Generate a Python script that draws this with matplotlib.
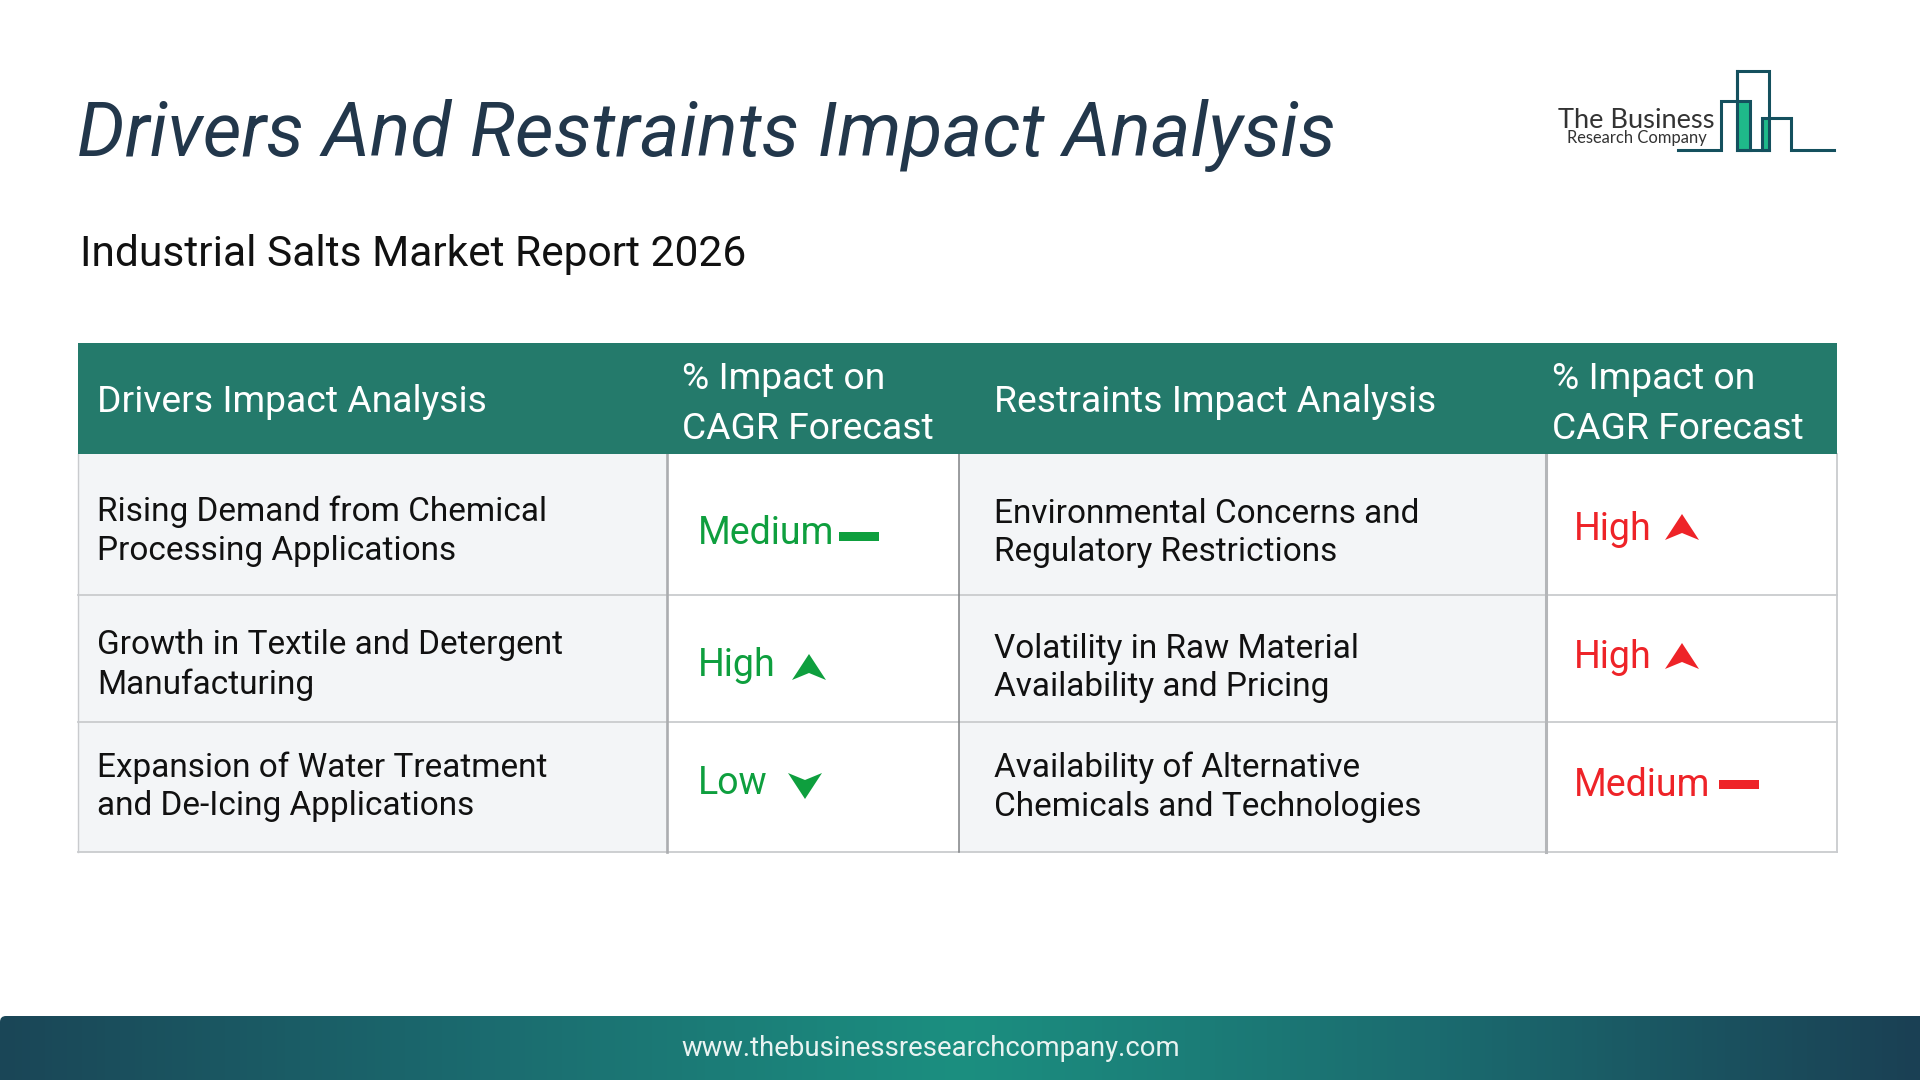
import numpy as np
import matplotlib
matplotlib.use("Agg")
import matplotlib.pyplot as plt
from matplotlib.colors import LinearSegmentedColormap
from matplotlib.patches import Rectangle, Polygon, FancyBboxPatch

plt.rcParams['font.family'] = ['Roboto', 'DejaVu Sans']

TITLE = "Drivers And Restraints Impact Analysis"
SUBTITLE = "Industrial Salts Market Report 2026"
FOOTER = "www.thebusinessresearchcompany.com"
HEADERS = ["Drivers Impact Analysis", "% Impact on\nCAGR Forecast",
           "Restraints Impact Analysis", "% Impact on\nCAGR Forecast"]
DRIVERS = ["Rising Demand from Chemical\nProcessing Applications",
           "Growth in Textile and Detergent\nManufacturing",
           "Expansion of Water Treatment\nand De-Icing Applications"]
DRIVER_IMPACT = ["Medium", "High", "Low"]
RESTRAINTS = ["Environmental Concerns and\nRegulatory Restrictions",
              "Volatility in Raw Material\nAvailability and Pricing",
              "Availability of Alternative\nChemicals and Technologies"]
RESTRAINT_IMPACT = ["High", "High", "Medium"]

GREEN, RED, TEAL = "#0E9F3E", "#EE2328", "#247A6B"
LINE, DARK = "#C9CBCE", "#14505E"

fig = plt.figure(figsize=(19.2, 10.8), dpi=100, facecolor="white")
ax = fig.add_axes([0, 0, 1, 1])
ax.set_xlim(0, 1920); ax.set_ylim(1080, 0); ax.axis("off")

ax.text(77, 127, TITLE, fontsize=54.2, style="italic", color="#22374B", va="center_baseline", ha="left")
ax.text(80, 250, SUBTITLE, fontsize=30.65, color="#111111", va="center_baseline", ha="left")

# table geometry
X = [78, 667, 959, 1546, 1837]
Y = [343, 454, 595, 722, 852]
ax.add_patch(Rectangle((X[0], Y[1]), X[1]-X[0], Y[4]-Y[1], fc="#F3F5F7", ec="none", zorder=1))
ax.add_patch(Rectangle((X[2], Y[1]), X[3]-X[2], Y[4]-Y[1], fc="#F3F5F7", ec="none", zorder=1))
for y in Y[2:]:
    ax.plot([X[0], X[4]], [y, y], color=LINE, lw=1.3, zorder=2)
ax.plot([X[0], X[0]], [Y[1], Y[4]], color=LINE, lw=1.0, zorder=2)
ax.plot([X[4], X[4]], [Y[1], Y[4]], color=LINE, lw=1.3, zorder=2)
ax.plot([X[1], X[1]], [Y[1], Y[4]], color="#ABADB0", lw=1.9, zorder=2)
ax.plot([X[2], X[2]], [Y[1], Y[4]], color="#808285", lw=1.1, zorder=2)
ax.plot([X[3], X[3]], [Y[1], Y[4]], color="#B4B6B9", lw=2.2, zorder=2)
ax.add_patch(Rectangle((X[0], Y[0]), X[4]-X[0], Y[1]-Y[0], fc=TEAL, ec="none", zorder=3))

hx = [97, 682, 994, 1552]
hy = [402, 404, 402, 404]
for x, y, t in zip(hx, hy, HEADERS):
    ax.text(x, y, t, fontsize=26.85, color="white", va="center", ha="left",
            linespacing=1.47 if "\n" in t else 1.0, zorder=4)

ty = [531.5, 665, 787]
for t, y in zip(DRIVERS, ty):
    ax.text(97, y, t, fontsize=24.05, color="#111111", va="center", ha="left", linespacing=1.26, zorder=4)
ty2 = [533, 668, 787.5]
for t, y in zip(RESTRAINTS, ty2):
    ax.text(994, y, t, fontsize=24.05, color="#111111", va="center", ha="left", linespacing=1.26, zorder=4)

def up(cx, base, color, flip=False):
    h, w, notch = 26, 34, 7
    s = -1 if flip else 1
    pts = [(cx, base - s*h), (cx + w/2, base), (cx, base - s*notch), (cx - w/2, base)]
    ax.add_patch(Polygon(pts, closed=True, fc=color, ec="none", zorder=4))

def dash(x0, y, color):
    ax.add_patch(Rectangle((x0, y-4.5), 40, 9, fc=color, ec="none", zorder=4))

dy = [530, 661, 780]
dmark = [(839, 536), (809, 680), (805, 773)]
for lab, y, m in zip(DRIVER_IMPACT, dy, dmark):
    ax.text(698, y, lab, fontsize=27, color=GREEN, va="center_baseline", ha="left", zorder=4)
    if lab == "Medium":
        dash(m[0], m[1], GREEN)
    elif lab == "High":
        up(m[0], m[1], GREEN)
    else:
        up(m[0], m[1], GREEN, flip=True)

ry = [526, 654, 782]
rmark = [(1682, 540), (1682, 669), (1719, 784)]
for lab, y, m in zip(RESTRAINT_IMPACT, ry, rmark):
    ax.text(1574, y, lab, fontsize=27, color=RED, va="center_baseline", ha="left", zorder=4)
    if lab == "Medium":
        dash(m[0], m[1], RED)
    else:
        up(m[0], m[1], RED)

# logo
ax.add_patch(Rectangle((1737, 102), 13, 49, fc="#1FB98A", ec="none"))
ax.add_patch(Rectangle((1763, 120), 6, 31, fc="#1FB98A", ec="none"))
lx = [1678, 1721, 1721, 1750, 1750, 1737, 1737, 1769, 1769, 1737, 1737]
ly = [150, 150, 101, 101, 150, 150, 71, 71, 150, 150, 71]
ax.plot(lx, ly, color=DARK, lw=2.2, solid_joinstyle="miter")
ax.plot([1769, 1762, 1762, 1791, 1791, 1834], [150, 150, 118, 118, 150, 150], color=DARK, lw=2.2,
        solid_joinstyle="miter")
ax.text(1636.5, 117.5, "The Business", fontsize=19.6, color="#333333", family="Lato",
        va="center_baseline", ha="center", zorder=5)
ax.text(1636.5, 136.5, "Research Company", fontsize=11.9, color="#333333", family="Lato",
        va="center_baseline", ha="center", zorder=5)

# footer
cmap = LinearSegmentedColormap.from_list("f", ["#1A4657", "#1B6B6F", "#1B8F80", "#1B6B6F", "#1A4054"])
grad = np.linspace(0, 1, 512).reshape(1, -1)
im = ax.imshow(grad, extent=(0, 1920, 1080, 1016), cmap=cmap, aspect="auto", zorder=1)
clip = FancyBboxPatch((0, 1016), 1960, 120, boxstyle="round,pad=0,rounding_size=6",
                      transform=ax.transData, fc="none", ec="none")
ax.add_patch(clip)
im.set_clip_path(clip)
ax.set_xlim(0, 1920); ax.set_ylim(1080, 0)
ax.text(931, 1046, FOOTER, fontsize=19.85, color="#E8F3F1", va="center_baseline", ha="center", zorder=3)

fig.savefig("out.png", dpi=100)
